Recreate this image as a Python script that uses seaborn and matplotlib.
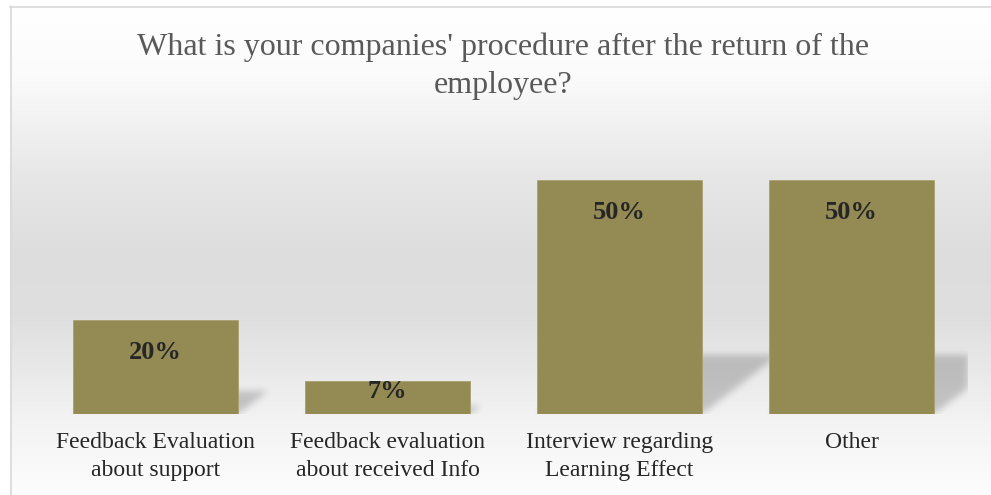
import numpy as np
import matplotlib
matplotlib.use("Agg")
import matplotlib.pyplot as plt
from matplotlib.lines import Line2D
import seaborn as sns

# survey answers
categories = [
    "Feedback Evaluation\nabout support",
    "Feedback evaluation\nabout received Info",
    "Interview regarding\nLearning Effect",
    "Other",
]
shares = [20, 7, 50, 50]
value_labels = ["20%", "7%", "50%", "50%"]
title = "What is your companies' procedure after the return of the\nemployee?"

sns.set_theme(style="white")
plt.rcParams["font.family"] = ["Liberation Serif", "DejaVu Serif"]

W, H = 991, 495
fig = plt.figure(figsize=(W / 100, H / 100), dpi=100)
fig.patch.set_facecolor("white")

# chart area with a soft vertical gradient
bg = fig.add_axes([10 / W, 0, (W - 10) / W, (H - 6) / H])
stops_y = [0, 70, 170, 250, 310, 370, 420, 489]
stops_v = [255, 251, 231, 221, 223, 234, 244, 253]
rows = np.interp(np.arange(H - 6), stops_y, stops_v) / 255.0
grad = np.repeat(rows[:, None], 2, axis=1)
bg.imshow(np.dstack([grad] * 3), aspect="auto", extent=(0, 1, 0, 1),
          origin="upper", interpolation="bilinear")
bg.set_axis_off()

# frame lines on the left and top of the chart area
fig.add_artist(Line2D([10.5 / W, 10.5 / W], [0, 1 - 6 / H], color="#d9d9d9", lw=1.2))
fig.add_artist(Line2D([10 / W, 1], [1 - 6.5 / H, 1 - 6.5 / H], color="#d9d9d9", lw=1.2))

# plot area
ax_w, ax_h = 928.0, 280.8
ax = fig.add_axes([39.5 / W, 81 / H, ax_w / W, ax_h / H])
ax.set_facecolor("none")
ymax = 60

sns.barplot(x=categories, y=shares, color="#948A54", saturation=1, width=0.711,
            edgecolor="#a9a070", linewidth=0.6, ax=ax, zorder=3)

ppx = ax_w / 4.0
ppy = ax_h / ymax

# perspective shadows cast behind the bars
nx, ny = int(ax_w), int(round(ax_h))
yy, xx = np.mgrid[0:ny, 0:nx] + 0.5
mask = np.zeros((ny, nx))
for bar in ax.patches:
    L = (bar.get_x() + 0.5) * ppx
    R = L + bar.get_width() * ppx
    hp = bar.get_height() * ppy
    h = 0.25 * hp
    s = 1.28 * h
    shift = yy * s / h
    inside = (yy <= h) & (xx >= L + shift) & (xx <= R + shift)
    mask = np.maximum(mask, inside.astype(float))


def blur(a, sigma):
    r = int(3 * sigma)
    k = np.exp(-0.5 * (np.arange(-r, r + 1) / sigma) ** 2)
    k /= k.sum()
    a = np.apply_along_axis(lambda m: np.convolve(m, k, mode="same"), 0, a)
    a = np.apply_along_axis(lambda m: np.convolve(m, k, mode="same"), 1, a)
    return a


soft = blur(mask, 3.5)
shadow = np.zeros((ny, nx, 4))
shadow[..., 3] = 0.19 * soft
ax.imshow(shadow, extent=(-0.5, 3.5, 0, ymax), origin="lower", aspect="auto",
          interpolation="bilinear", zorder=2)

# value labels inside the bars
for bar, lab in zip(ax.patches, value_labels):
    hp = bar.get_height() * ppy
    yb = max(hp - 39, 16) / ppy
    ax.text(bar.get_x() + bar.get_width() / 2, yb, lab, ha="center", va="baseline",
            fontsize=19, fontweight="bold", color="#262626", zorder=4)

ax.set_xlim(-0.5, 3.5)
ax.set_ylim(0, ymax)
ax.set_yticks([])
ax.set_xlabel("")
ax.set_ylabel("")
for sp in ax.spines.values():
    sp.set_visible(False)
ax.tick_params(axis="x", length=0, pad=13, labelsize=17, labelcolor="#262626")
plt.setp(ax.get_xticklabels(), linespacing=1.42)

fig.text(503.5 / W, 1 - 32 / H, title, ha="center", va="top", fontsize=23,
         color="#595959", linespacing=1.45)

fig.savefig("out.png", dpi=100)
